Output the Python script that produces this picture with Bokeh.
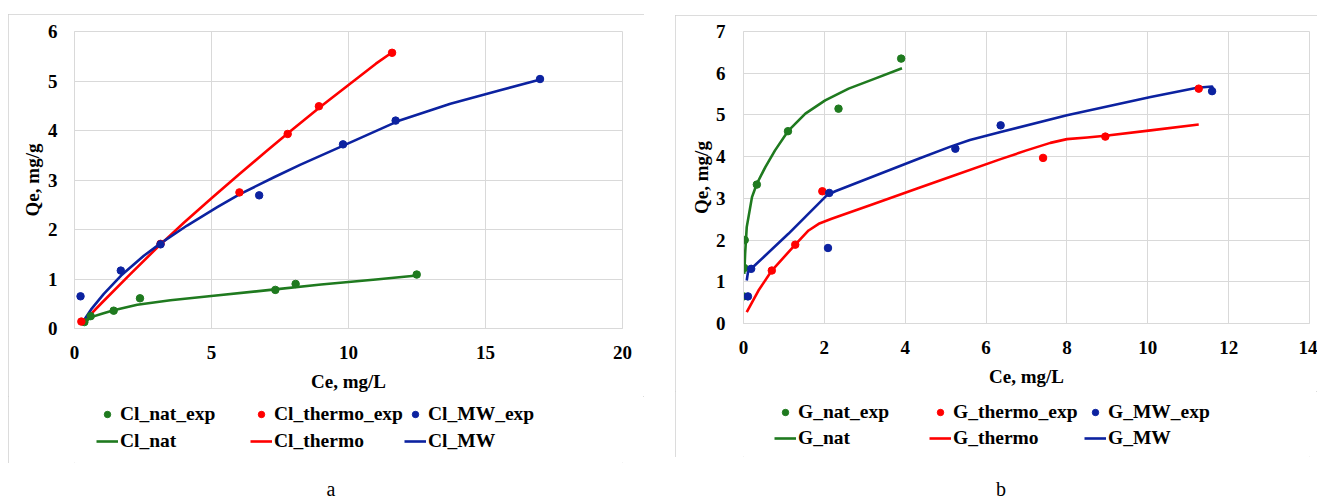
from bokeh.plotting import figure
from bokeh.models import Legend, LegendItem, FixedTicker, Div, Spacer, Range1d
from bokeh.layouts import row, column
from bokeh.embed import file_html
from bokeh.resources import INLINE

FONT = "Liberation Serif"
GREEN = "#1f7a1f"
RED = "#ff0000"
BLUE = "#0c22a0"
GRID = "#d9d9d9"

# ---------------- panel a (Cl) ----------------
cl_nat_exp_x = [0.36, 0.59, 1.43, 2.39, 7.33, 8.07, 12.49]
cl_nat_exp_y = [0.13, 0.25, 0.36, 0.61, 0.78, 0.90, 1.09]
cl_thermo_exp_x = [0.25, 3.14, 6.02, 7.78, 8.92, 11.59]
cl_thermo_exp_y = [0.14, 1.71, 2.75, 3.93, 4.49, 5.57]
cl_mw_exp_x = [0.22, 1.69, 3.14, 6.74, 9.80, 11.72, 16.99]
cl_mw_exp_y = [0.65, 1.17, 1.70, 2.69, 3.72, 4.20, 5.04]

cl_nat_x = [0.34, 0.61, 1.0, 1.43, 2.29, 3.5, 5.08, 7.15, 9.0, 11.0, 12.5]
cl_nat_y = [0.11, 0.23, 0.30, 0.37, 0.48, 0.57, 0.66, 0.78, 0.89, 0.99, 1.07]
cl_thermo_x = [0.28, 1, 2, 3.14, 4, 5, 6, 7, 7.82, 9, 10, 11, 11.65]
cl_thermo_y = [0.11, 0.52, 1.08, 1.70, 2.14, 2.63, 3.11, 3.58, 3.96, 4.49, 4.92, 5.35, 5.60]
cl_mw_x = [0.28, 0.6, 1.07, 1.7, 2.53, 3.14, 4.11, 5.21, 6.02, 7.3, 8.25, 9.83, 11.81, 13.72, 15.5, 17.07]
cl_mw_y = [0.11, 0.38, 0.70, 1.07, 1.47, 1.72, 2.08, 2.45, 2.71, 3.06, 3.31, 3.70, 4.19, 4.54, 4.81, 5.04]

cl_x_ticks = [0, 5, 10, 15, 20]
cl_y_ticks = [0, 1, 2, 3, 4, 5, 6]

# ---------------- panel b (G) ----------------
g_nat_exp_x = [0.0, 0.02, 0.03, 0.33, 1.10, 2.35, 3.90]
g_nat_exp_y = [0.65, 1.33, 2.00, 3.33, 4.61, 5.15, 6.35]
g_thermo_exp_x = [0.70, 1.28, 1.95, 7.41, 8.95, 11.26]
g_thermo_exp_y = [1.27, 1.89, 3.17, 3.97, 4.48, 5.63]
g_mw_exp_x = [0.11, 0.19, 2.09, 2.12, 5.24, 6.36, 11.59]
g_mw_exp_y = [0.65, 1.31, 1.81, 3.13, 4.19, 4.75, 5.57]

g_nat_x = [0.02, 0.04, 0.08, 0.21, 0.33, 0.54, 0.78, 1.1, 1.53, 2.02, 2.6, 3.17, 3.92]
g_nat_y = [1.19, 1.67, 2.31, 3.03, 3.35, 3.75, 4.15, 4.61, 5.03, 5.35, 5.63, 5.84, 6.12]
g_thermo_x = [0.08, 0.37, 0.7, 1.28, 1.61, 1.86, 2.18, 3.2, 4.33, 5.12, 6.36, 7.0, 7.59, 8.0, 8.5, 8.95, 10.07, 11.26]
g_thermo_y = [0.27, 0.79, 1.27, 1.89, 2.23, 2.39, 2.51, 2.86, 3.25, 3.52, 3.94, 4.15, 4.33, 4.42, 4.46, 4.50, 4.63, 4.77]
g_mw_x = [0.08, 0.11, 0.21, 1.11, 2.06, 2.27, 4.33, 5.12, 5.6, 6.36, 8.0, 10.07, 11.22, 11.59, 11.62]
g_mw_y = [1.03, 1.23, 1.33, 2.15, 3.07, 3.17, 3.95, 4.24, 4.40, 4.59, 4.99, 5.43, 5.65, 5.68, 5.60]

g_x_ticks = [0, 2, 4, 6, 8, 10, 12, 14]
g_y_ticks = [0, 1, 2, 3, 4, 5, 6, 7]


def make_panel(fw, fh, bl, br, bt, bb, xmax, ymax, xt, yt, series, names,
               leg_h, leg_x, leg_y1, leg_y2, lab_w, y_std, y_lab_std):
    p = figure(frame_width=fw, frame_height=fh, output_backend="svg", toolbar_location=None,
               x_range=Range1d(0, xmax), y_range=Range1d(0, ymax),
               min_border_left=bl, min_border_right=br, min_border_top=bt,
               min_border_bottom=bb)
    p.outline_line_color = GRID
    p.background_fill_color = "white"
    p.border_fill_color = "white"
    for ax in (p.xaxis[0], p.yaxis[0]):
        ax.major_tick_line_color = None
        ax.minor_tick_line_color = None
        ax.axis_line_color = GRID
        ax.major_label_text_font = FONT
        ax.major_label_text_font_style = "bold"
        ax.major_label_text_font_size = "19px"
        ax.major_label_text_color = "black"
        ax.axis_label_text_font = FONT
        ax.axis_label_text_font_style = "bold"
        ax.axis_label_text_font_size = "19px"
        ax.axis_label_text_color = "black"
    p.xaxis.ticker = FixedTicker(ticks=xt)
    p.yaxis.ticker = FixedTicker(ticks=yt)
    p.xaxis.axis_label = "Ce, mg/L"
    p.yaxis.axis_label = "Qe, mg/g"
    p.xaxis.major_label_standoff = 11
    p.yaxis.major_label_standoff = y_std
    p.xaxis.axis_label_standoff = 9
    p.yaxis.axis_label_standoff = y_lab_std
    p.grid.grid_line_color = GRID
    p.grid.grid_line_width = 1

    for (ex, ey, lx, ly, col) in series:
        p.line(lx, ly, line_color=col, line_width=2.6, line_join="round")
    for (ex, ey, lx, ly, col) in series:
        p.scatter(ex, ey, marker="circle", size=7.5, fill_color=col, line_color=col)

    # legend strip: same series drawn off-view, only their legend glyphs are seen
    total_w = fw + bl + br
    q = figure(width=total_w, height=leg_h, output_backend="svg", toolbar_location=None,
               x_range=Range1d(-100, -99), y_range=Range1d(-100, -99), min_border=0,
               x_axis_location=None, y_axis_location=None)
    q.outline_line_color = None
    q.grid.visible = False
    q.background_fill_color = "white"
    q.border_fill_color = "white"
    dots, lines = [], []
    for (ex, ey, lx, ly, col) in series:
        dots.append(q.scatter(ex, ey, marker="circle", size=6, fill_color=col, line_color=col))
        lines.append(q.line(lx, ly, line_color=col, line_width=2.6))
    common = dict(orientation="horizontal",
                  label_text_font=FONT, label_text_font_style="bold",
                  label_text_font_size="19.5px", label_text_color="black",
                  glyph_width=22, glyph_height=16, label_standoff=2, spacing=0,
                  label_width=lab_w, label_height=20,
                  padding=0, margin=0, border_line_color=None,
                  background_fill_alpha=0)
    leg1 = Legend(items=[LegendItem(label=names[0][i], renderers=[dots[i]]) for i in range(3)],
                  location=(leg_x, leg_y1), **common)
    leg2 = Legend(items=[LegendItem(label=names[1][i], renderers=[lines[i]]) for i in range(3)],
                  location=(leg_x, leg_y2), **common)
    q.add_layout(leg1, "center")
    q.add_layout(leg2, "center")
    return column(p, q, styles={"outline": "1px solid #d0d0d0", "outline-offset": "-1px"})


c1 = make_panel(548, 297, 66, 22, 17, 68, 20, 6, cl_x_ticks, cl_y_ticks,
                [(cl_nat_exp_x, cl_nat_exp_y, cl_nat_x, cl_nat_y, GREEN),
                 (cl_thermo_exp_x, cl_thermo_exp_y, cl_thermo_x, cl_thermo_y, RED),
                 (cl_mw_exp_x, cl_mw_exp_y, cl_mw_x, cl_mw_y, BLUE)],
                [["Cl_nat_exp", "Cl_thermo_exp", "Cl_MW_exp"], ["Cl_nat", "Cl_thermo", "Cl_MW"]],
                67, 22, 38, 11, 130, 11, 2)

c2 = make_panel(566, 292, 68, 8, 16, 68, 14, 7, g_x_ticks, g_y_ticks,
                [(g_nat_exp_x, g_nat_exp_y, g_nat_x, g_nat_y, GREEN),
                 (g_thermo_exp_x, g_thermo_exp_y, g_thermo_x, g_thermo_y, RED),
                 (g_mw_exp_x, g_mw_exp_y, g_mw_x, g_mw_y, BLUE)],
                [["G_nat_exp", "G_thermo_exp", "G_MW_exp"], ["G_nat", "G_thermo", "G_MW"]],
                66, 31, 34, 8, 131, 12, 1)

lab_style = {"text-align": "center", "font-family": "Liberation Serif",
             "font-size": "20px", "color": "black"}
da = Div(text="a", width=636, height=30, styles=lab_style)
db = Div(text="b", width=642, height=30, styles=lab_style)

left = column(Spacer(height=14), c1, Spacer(height=7), da)
right = column(Spacer(height=15), c2, Spacer(height=13), db)
layout = row(Spacer(width=8), left, Spacer(width=21), right)

open("out.html", "w").write(file_html(layout, INLINE))
